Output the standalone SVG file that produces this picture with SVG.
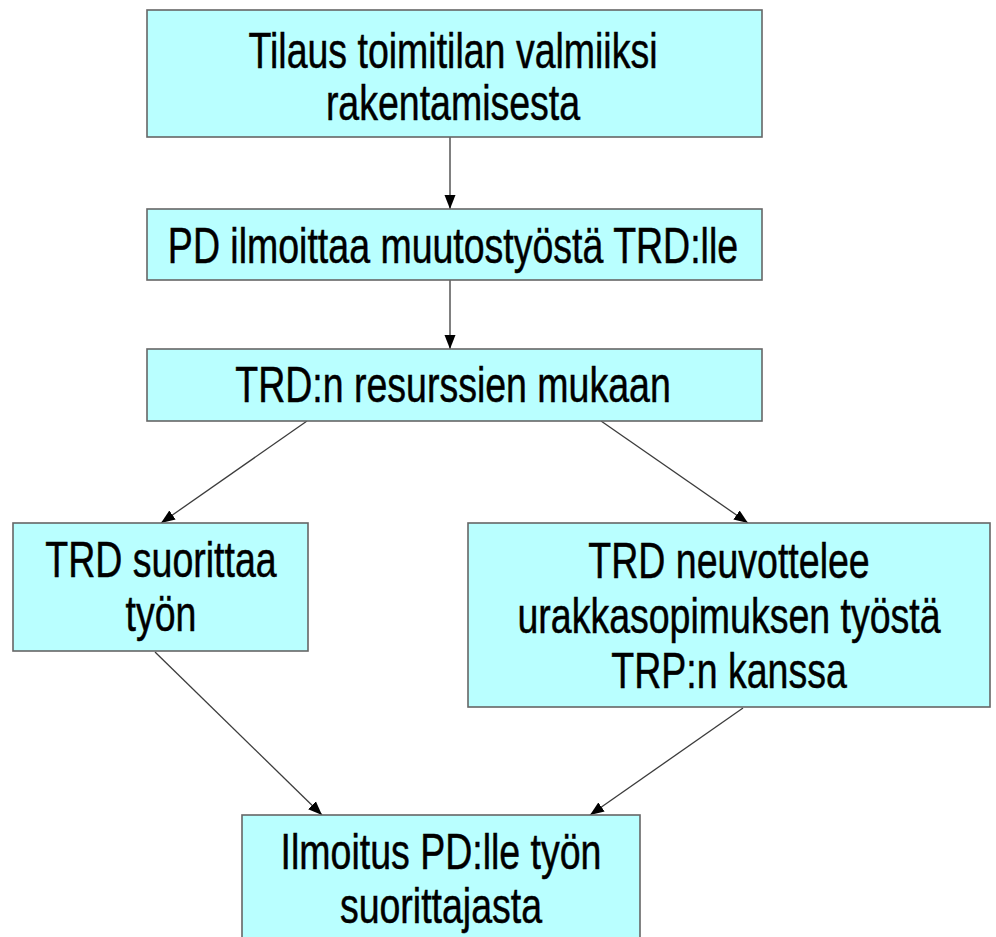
<svg xmlns="http://www.w3.org/2000/svg" width="996" height="937" viewBox="0 0 996 937">
  <defs>
    <marker id="arrow" markerUnits="userSpaceOnUse" markerWidth="14" markerHeight="12" viewBox="0 0 14 12" refX="14" refY="6" orient="auto">
      <path d="M0,0.5 L14,6 L0,11.5 Z" fill="#000"/>
    </marker>
    <style>
      .box { fill: #b9ffff; stroke: #666; stroke-width: 1.6; }
      .lbl { font-family: "Liberation Sans", Arial, Helvetica, sans-serif; font-size: 50px; fill: #000; stroke: #000; stroke-width: 0.5; text-anchor: middle; }
      .edge { stroke: #3c3c3c; stroke-width: 1.3; fill: none; marker-end: url(#arrow); }
    </style>
  </defs>
  <rect width="996" height="937" fill="#fff"/>

  <!-- connectors -->
  <g id="connectors">
    <line class="edge" x1="450" y1="137" x2="450" y2="209"/>
    <line class="edge" x1="450" y1="280" x2="450" y2="349"/>
    <line class="edge" x1="307" y1="421" x2="161" y2="523"/>
    <line class="edge" x1="601" y1="421" x2="748" y2="523"/>
    <line class="edge" x1="155" y1="652" x2="322" y2="815"/>
    <line class="edge" x1="743" y1="708" x2="590" y2="815"/>
  </g>

  <g id="order">
    <rect class="box" x="147" y="10" width="615" height="127"/>
    <g transform="translate(453 0) scale(0.75 1)">
      <text class="lbl" x="0" y="68">Tilaus toimitilan valmiiksi</text>
      <text class="lbl" x="0" y="120">rakentamisesta</text>
    </g>
  </g>

  <g id="pd-notifies">
    <rect class="box" x="147" y="209" width="615" height="71"/>
    <g transform="translate(453 0) scale(0.75 1)">
      <text class="lbl" x="0" y="263">PD ilmoittaa muutostyöstä TRD:lle</text>
    </g>
  </g>

  <g id="resources">
    <rect class="box" x="147" y="349" width="615" height="72"/>
    <g transform="translate(453 0) scale(0.75 1)">
      <text class="lbl" x="0" y="402">TRD:n resurssien mukaan</text>
    </g>
  </g>

  <g id="trd-does">
    <rect class="box" x="13" y="523" width="295" height="128"/>
    <g transform="translate(161 0) scale(0.75 1)">
      <text class="lbl" x="0" y="577">TRD suorittaa</text>
      <text class="lbl" x="0" y="631">työn</text>
    </g>
  </g>

  <g id="trd-negotiates">
    <rect class="box" x="468" y="523" width="522" height="184"/>
    <g transform="translate(729 0) scale(0.75 1)">
      <text class="lbl" x="0" y="578">TRD neuvottelee</text>
      <text class="lbl" x="0" y="633">urakkasopimuksen työstä</text>
      <text class="lbl" x="0" y="688">TRP:n kanssa</text>
    </g>
  </g>

  <g id="notice">
    <rect class="box" x="242" y="815" width="398" height="135"/>
    <g transform="translate(441 0) scale(0.75 1)">
      <text class="lbl" x="0" y="869">Ilmoitus PD:lle työn</text>
      <text class="lbl" x="0" y="923">suorittajasta</text>
    </g>
  </g>
</svg>
